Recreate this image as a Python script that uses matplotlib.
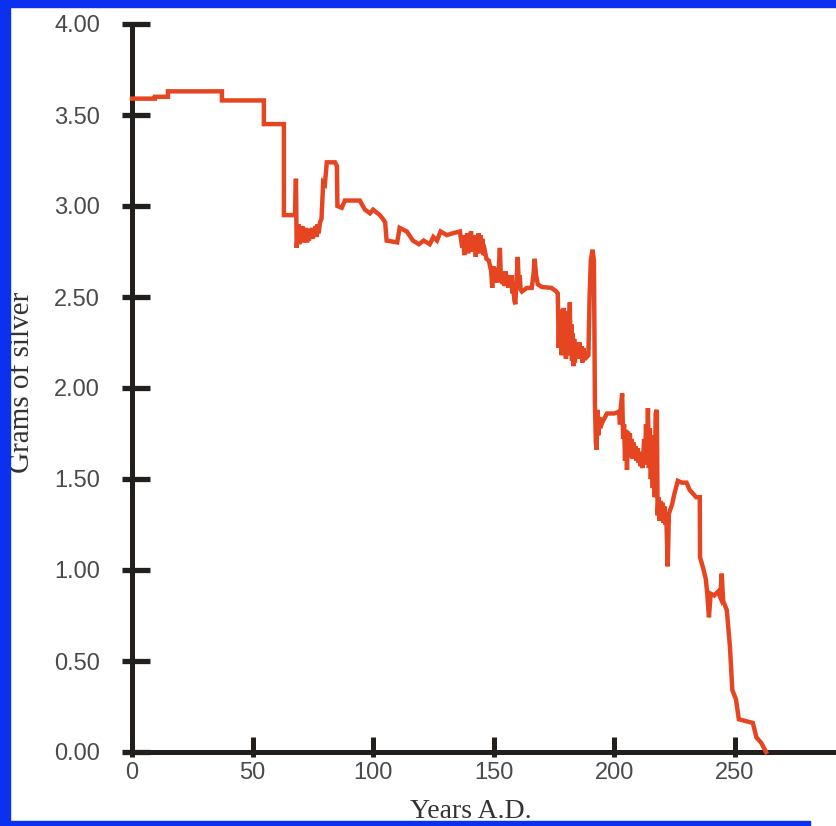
import numpy as np
import matplotlib
matplotlib.use('Agg')
import matplotlib.pyplot as plt
from matplotlib.ticker import FixedLocator
from matplotlib.patches import Rectangle

# silver content of the denarius (year, grams)
early = [(0, 3.59), (9.5, 3.59), (9.5, 3.60), (14.9, 3.60), (14.9, 3.63), (37.3, 3.63),
         (37.3, 3.58), (54.7, 3.58), (54.7, 3.45), (63.0, 3.45), (63.0, 2.95), (67.6, 2.95),
         (68.0, 3.15), (68.3, 2.77),
         (69.0, 2.90), (69.4, 2.79), (69.8, 2.88), (70.2, 2.81), (70.6, 2.89), (71.0, 2.80),
         (71.4, 2.86), (71.8, 2.82), (72.2, 2.88), (72.6, 2.80), (73.0, 2.85), (73.4, 2.81),
         (73.8, 2.87), (74.2, 2.83), (74.6, 2.88), (75.0, 2.82), (75.4, 2.86), (75.8, 2.84),
         (76.2, 2.89), (76.6, 2.83), (77.0, 2.90), (77.4, 2.85), (78.0, 2.91), (78.6, 2.93),
         (79.3, 3.13), (80.0, 3.12), (80.8, 3.24), (84.2, 3.24), (85.0, 3.22), (85.2, 3.00),
         (87.0, 2.99), (88.3, 3.03), (94.5, 3.03), (96.6, 2.98), (98.7, 2.96), (100.0, 2.98),
         (102.8, 2.95), (104.0, 2.93), (105.0, 2.91), (105.6, 2.81), (110.0, 2.80),
         (111.0, 2.88), (114.0, 2.86), (116.5, 2.81), (119.0, 2.79), (121.0, 2.81),
         (123.5, 2.79), (125.0, 2.83), (126.5, 2.81), (128.0, 2.86), (130.6, 2.84),
         (133.0, 2.85), (136.0, 2.86)]

middle = [(137.0, 2.77), (137.4, 2.84), (137.8, 2.73), (138.2, 2.83), (138.6, 2.76),
          (139.0, 2.85), (139.4, 2.74), (139.8, 2.82), (140.2, 2.77), (140.6, 2.86),
          (141.0, 2.75), (141.4, 2.83), (141.8, 2.78), (142.2, 2.84), (142.6, 2.72),
          (143.0, 2.82), (143.4, 2.76), (143.8, 2.85), (144.2, 2.74), (144.6, 2.84),
          (145.0, 2.77), (145.4, 2.82), (145.8, 2.73), (146.4, 2.75), (147.0, 2.71),
          (148.0, 2.70), (149.0, 2.64), (149.4, 2.55), (149.8, 2.67), (150.2, 2.58),
          (150.6, 2.66), (151.0, 2.59), (151.4, 2.65), (151.8, 2.58), (152.2, 2.68),
          (152.6, 2.77), (153.0, 2.60), (153.4, 2.64), (153.8, 2.57), (154.2, 2.63),
          (154.6, 2.56), (155.0, 2.64), (155.4, 2.58), (155.8, 2.62), (156.2, 2.55),
          (156.6, 2.61), (157.0, 2.58), (157.4, 2.62), (157.8, 2.52), (158.2, 2.56),
          (158.6, 2.48), (159.0, 2.46), (159.4, 2.58), (159.8, 2.66), (160.0, 2.72),
          (160.4, 2.58), (160.8, 2.62), (161.2, 2.54), (161.7, 2.53), (163.8, 2.55),
          (165.8, 2.55), (166.5, 2.62), (167.0, 2.71), (167.6, 2.62), (168.3, 2.57),
          (170.0, 2.555), (174.0, 2.55), (176.0, 2.53), (176.6, 2.52),
          (177.0, 2.22), (177.3, 2.40), (177.6, 2.26), (177.9, 2.43), (178.2, 2.18),
          (178.5, 2.38), (178.8, 2.24), (179.1, 2.44), (179.4, 2.20), (179.7, 2.36),
          (180.0, 2.16), (180.3, 2.34), (180.6, 2.22), (180.9, 2.42), (181.2, 2.18),
          (181.6, 2.47), (181.9, 2.20), (182.2, 2.35), (182.5, 2.15), (182.8, 2.30),
          (183.1, 2.12), (183.4, 2.27), (183.7, 2.14), (184.0, 2.25), (184.4, 2.17),
          (184.8, 2.24), (185.2, 2.16), (185.6, 2.25), (186.0, 2.18), (186.4, 2.23),
          (186.8, 2.14), (187.2, 2.22), (187.6, 2.16), (188.0, 2.20), (188.6, 2.17),
          (189.3, 2.18), (189.8, 2.50), (190.3, 2.70), (191.0, 2.76), (191.6, 2.70)]

late = [(192.0, 1.92), (192.4, 1.70), (192.7, 1.66), (193.0, 1.88), (193.4, 1.74),
        (193.8, 1.84), (194.2, 1.78), (195.0, 1.81), (197.0, 1.86), (200.0, 1.86),
        (202.0, 1.87), (202.4, 1.80), (202.8, 1.90), (203.3, 1.97), (203.7, 1.72),
        (204.1, 1.80), (204.5, 1.60), (204.9, 1.77), (205.3, 1.55), (205.7, 1.76),
        (206.1, 1.64), (206.5, 1.75), (206.9, 1.62), (207.3, 1.72), (207.7, 1.61),
        (208.1, 1.70), (208.5, 1.62), (208.9, 1.68), (209.3, 1.60), (209.7, 1.67),
        (210.1, 1.59), (210.5, 1.65), (210.9, 1.57), (211.3, 1.63), (211.7, 1.56),
        (212.0, 1.60), (212.4, 1.72), (212.8, 1.58), (213.2, 1.80), (213.6, 1.62),
        (214.0, 1.89), (214.4, 1.56), (214.8, 1.78), (215.2, 1.50), (215.6, 1.74),
        (216.0, 1.45), (216.4, 1.70), (216.8, 1.40), (217.2, 1.86), (217.7, 1.88),
        (218.0, 1.30), (218.4, 1.40), (218.8, 1.27), (219.2, 1.38), (219.6, 1.28),
        (220.0, 1.37), (220.4, 1.26), (220.8, 1.35), (221.2, 1.25), (221.6, 1.30),
        (222.2, 1.02), (222.7, 1.31), (224.0, 1.36), (225.0, 1.42), (226.4, 1.49),
        (228.0, 1.48), (230.0, 1.48), (231.3, 1.44), (234.0, 1.40), (235.5, 1.40),
        (235.6, 1.07), (236.7, 1.02), (238.0, 0.95), (238.6, 0.87), (239.3, 0.74),
        (240.0, 0.87), (241.5, 0.86), (243.0, 0.88), (244.0, 0.85), (244.6, 0.98),
        (245.2, 0.83), (246.7, 0.78), (248.0, 0.58), (249.0, 0.34), (250.5, 0.29),
        (251.7, 0.18), (254.5, 0.17), (257.5, 0.16), (259.0, 0.08), (261.0, 0.05),
        (263.0, 0.00)]

years = [p[0] for p in early + middle + late]
grams = [p[1] for p in early + middle + late]

xticks = [0, 50, 100, 150, 200, 250]
yticks = [0, 0.5, 1, 1.5, 2, 2.5, 3, 3.5, 4]

W, H = 836, 826
fig = plt.figure(figsize=(W/100, H/100), dpi=100)
ax = fig.add_axes([132/W, 1 - 752/H, (W - 132)/W, (752 - 24)/H])

axcol = '#231f1c'
ax.plot(years, grams, color='#e64522', lw=3.2, solid_joinstyle='miter', clip_on=False, zorder=3)

ax.set_xlim(0, 292)
ax.set_ylim(0, 4)
for s in ['top', 'right']:
    ax.spines[s].set_visible(False)
for s in ['left', 'bottom']:
    ax.spines[s].set_linewidth(3.6)
    ax.spines[s].set_color(axcol)

ax.xaxis.set_major_locator(FixedLocator(xticks))
ax.yaxis.set_major_locator(FixedLocator(yticks))
ax.xaxis.set_minor_locator(FixedLocator(xticks))
ax.yaxis.set_minor_locator(FixedLocator(yticks))
ax.xaxis.remove_overlapping_locs = False
ax.yaxis.remove_overlapping_locs = False
ax.set_xticklabels([str(v) for v in xticks])
ax.set_yticklabels(['%.2f' % v for v in yticks])

for lab in ax.get_xticklabels() + ax.get_yticklabels():
    lab.set_fontfamily('Liberation Sans')
    lab.set_fontsize(17)
    lab.set_color('#4a4a4a')

ax.tick_params(axis='x', which='major', direction='in', length=11, width=3.6, color=axcol, pad=7)
ax.tick_params(axis='x', which='minor', direction='out', length=3.6, width=3.6, color=axcol)
ax.tick_params(axis='y', which='major', direction='in', length=13, width=3.8, color=axcol, pad=23)
ax.tick_params(axis='y', which='minor', direction='out', length=7.5, width=3.8, color=axcol)

fig.text(22/W, 1 - 382/H, 'Grams of silver', rotation=90, ha='center', va='center',
         family='Liberation Serif', size=21, color='#333333')
fig.text(471/W, 1 - 818/H, 'Years A.D.', ha='center', va='baseline',
         family='Liberation Serif', size=20, color='#333333')

blue = '#0b30f0'
fig.patches.append(Rectangle((0, 0), 10/W, 1, transform=fig.transFigure, color=blue, zorder=10))
fig.patches.append(Rectangle((0, 1 - 7/H), 1, 7/H, transform=fig.transFigure, color=blue, zorder=10))
fig.patches.append(Rectangle((0, 0), 810/W, 5/H, transform=fig.transFigure, color=blue, zorder=10))

fig.savefig('out.png', dpi=100)
